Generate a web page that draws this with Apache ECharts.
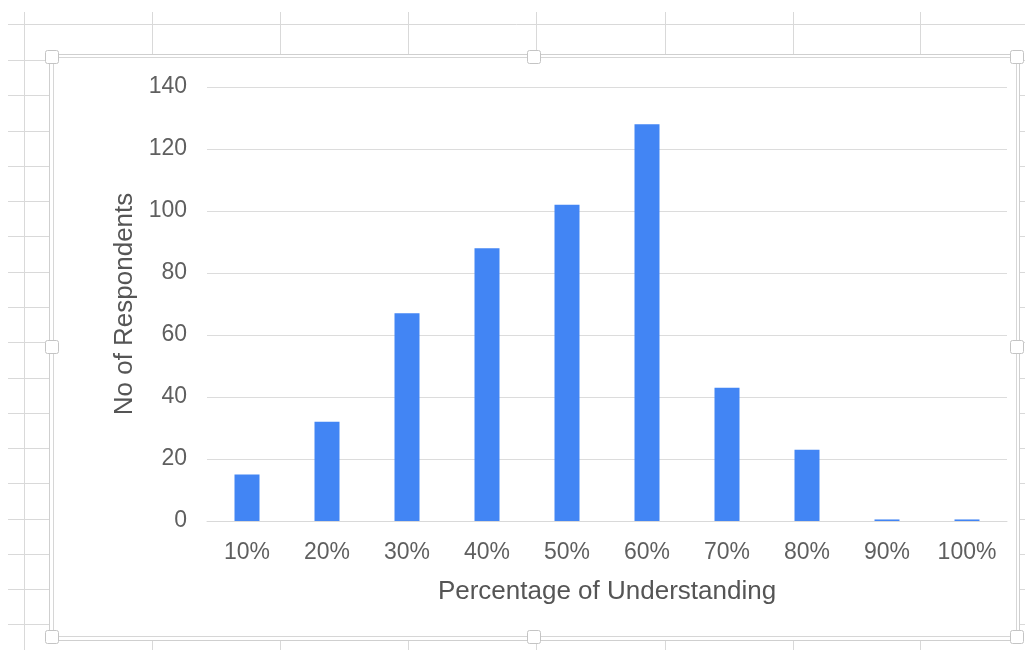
<!DOCTYPE html>
<html>
<head>
<meta charset="utf-8">
<style>
  html, body { margin: 0; padding: 0; background: #ffffff; }
  #chart { width: 1025px; height: 650px; }
</style>
<script src="https://cdn.jsdelivr.net/npm/echarts@6/dist/echarts.min.js"></script>
</head>
<body>
<div id="chart"></div>
<script>
// ---- data ----
const categories = ['10%', '20%', '30%', '40%', '50%', '60%', '70%', '80%', '90%', '100%'];
const respondents = [15, 32, 67, 88, 102, 128, 43, 23, 0.5, 0.5];
const xTitle = 'Percentage of Understanding';
const yTitle = 'No of Respondents';

// ---- spreadsheet backdrop (decoration) ----
const colLines = [24, 152, 280, 408, 536, 665, 793, 920];
const rowLines = [24, 60, 95, 131, 166, 201, 236, 272, 307, 342, 378, 413, 448, 483, 519, 554, 589, 624];

const graphics = [];
colLines.forEach(x => graphics.push({
  type: 'line', z: -20, silent: true,
  shape: { x1: x + 0.5, y1: 12, x2: x + 0.5, y2: 650 },
  style: { stroke: '#d9d9d9', lineWidth: 1 }
}));
rowLines.forEach(y => graphics.push({
  type: 'line', z: -20, silent: true,
  shape: { x1: 8, y1: y + 0.5, x2: 1025, y2: y + 0.5 },
  style: { stroke: '#d9d9d9', lineWidth: 1 }
}));
// chart frame
graphics.push({
  type: 'rect', z: -15, silent: true,
  shape: { x: 49.5, y: 54.5, width: 970, height: 586 },
  style: { fill: '#ffffff', stroke: '#cfcfcf', lineWidth: 1 }
});
graphics.push({
  type: 'rect', z: -14, silent: true,
  shape: { x: 53.5, y: 57.5, width: 963, height: 579 },
  style: { fill: '#ffffff', stroke: '#d6d6d6', lineWidth: 1 }
});
// handles
const hx = [52, 534, 1017];
const hy = [57, 347, 637];
hx.forEach(x => hy.forEach(y => {
  if (x === 534 && y === 347) return;
  graphics.push({
    type: 'rect', z: -10, silent: true,
    shape: { x: x - 6.5, y: y - 6.5, width: 13, height: 13, r: 2 },
    style: { fill: '#ffffff', stroke: '#c4c4c4', lineWidth: 1 }
  });
}));

const chart = echarts.init(document.getElementById('chart'), null, { renderer: 'canvas' });
chart.setOption({
  animation: false,
  backgroundColor: '#ffffff',
  textStyle: { fontFamily: '"Liberation Sans", Arial, sans-serif' },
  graphic: { elements: graphics },
  grid: { left: 207, right: 18, top: 87, bottom: 129, containLabel: false },
  xAxis: {
    type: 'category',
    data: categories,
    name: xTitle,
    nameLocation: 'middle',
    nameGap: 58,
    nameTextStyle: { color: '#555555', fontSize: 26, fontFamily: '"Liberation Sans", Arial, sans-serif' },
    axisLine: { show: true, lineStyle: { color: '#d9d9d9', width: 1 } },
    axisTick: { show: false },
    axisLabel: { color: '#5f5f5f', fontSize: 23, margin: 20, interval: 0, fontFamily: '"Liberation Sans", Arial, sans-serif' },
    splitLine: { show: false }
  },
  yAxis: {
    type: 'value',
    min: 0, max: 140, interval: 20,
    name: yTitle,
    nameLocation: 'middle',
    nameGap: 67,
    nameTextStyle: { color: '#555555', fontSize: 26, fontFamily: '"Liberation Sans", Arial, sans-serif' },
    axisLine: { show: false },
    axisTick: { show: false },
    axisLabel: { color: '#5f5f5f', fontSize: 23, margin: 20, fontFamily: '"Liberation Sans", Arial, sans-serif' },
    splitLine: { lineStyle: { color: '#dcdcdc', width: 1 } }
  },
  series: [{
    type: 'bar',
    data: respondents,
    barWidth: 25,
    itemStyle: { color: '#4285f4' }
  }]
});
</script>
</body>
</html>
